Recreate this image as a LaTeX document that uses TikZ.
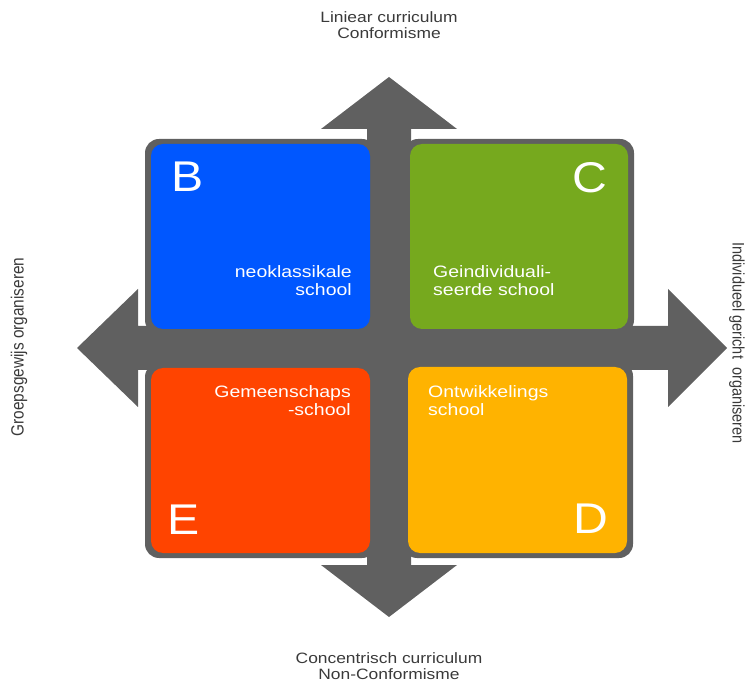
\documentclass[tikz,border=0pt]{standalone}
\usepackage{fontspec}
\setmainfont{Liberation Sans}
\definecolor{arrowgray}{HTML}{606060}
\definecolor{qblue}{HTML}{0057FF}
\definecolor{qgreen}{HTML}{76A91E}
\definecolor{qred}{HTML}{FF4400}
\definecolor{qorange}{HTML}{FFB300}
\definecolor{labelgray}{HTML}{3A3A3A}
\tikzset{
  frame/.style={fill=arrowgray, rounded corners=14pt},
  quad/.style={rounded corners=12pt},
  bigletter/.style={text=white, font=\fontsize{43}{43}\selectfont, inner sep=0pt, xscale=1.12},
  qlabel/.style={text=white, font=\fontsize{16.5}{18}\selectfont, inner sep=0pt, xscale=1.18},
  axislabel/.style={text=labelgray, font=\fontsize{15}{16}\selectfont, inner sep=0pt, align=center},
  hlabel/.style={axislabel, xscale=1.16},
  vlabel/.style={axislabel, font=\fontsize{14.5}{16}\selectfont, yscale=1.15}
}
\begin{document}
\begin{tikzpicture}[x=1pt,y=-1pt]
\useasboundingbox (0,0) rectangle (747,684);
% cross of arrows
\fill[arrowgray] (389,77) -- (457,129) -- (411,129) -- (411,326) -- (668,326) -- (668,289)
  -- (727,348) -- (668,407) -- (668,370) -- (411,370) -- (411,565) -- (457,565)
  -- (389,617) -- (321,565) -- (367,565) -- (367,370) -- (138,370) -- (138,407)
  -- (77,348) -- (138,289) -- (138,326) -- (367,326) -- (367,129) -- (321,129) -- cycle;
% frames
\fill[frame] (145,139) rectangle (376,334);
\fill[frame] (404,139) rectangle (634,334);
\fill[frame] (145,363) rectangle (376,558);
\fill[frame] (403,362) rectangle (633,558);
% quadrants
\fill[quad, qblue] (151,144) rectangle (370,329);
\fill[quad, qgreen] (410,144) rectangle (628,329);
\fill[quad, qred] (151,368) rectangle (370,553);
\fill[quad, qorange] (408,367) rectangle (627,553);
% letters
\node[bigletter, anchor=north west] (B) at (171,162) {B};
\node[bigletter, anchor=north east] (C) at (607,162) {C};
\node[bigletter, anchor=south west] (E) at (167,535) {E};
\node[bigletter, anchor=south east] (D) at (608,534) {D};
% quadrant labels
\node[qlabel, align=right, anchor=north east] (nb) at (352,265) {neoklassikale\\school};
\node[qlabel, align=left, anchor=north west] (nc) at (433,265) {Geindividuali-\\seerde school};
\node[qlabel, align=right, anchor=north east] (ne) at (351,385) {Gemeenschaps\\-school};
\node[qlabel, align=left, anchor=north west] (nd) at (428,385) {Ontwikkelings\\school};
% axis labels
\node[hlabel] (top) at (389,25) {Liniear curriculum\\Conformisme};
\node[hlabel] (bottom) at (389,666) {Concentrisch curriculum\\Non-Conformisme};
\node[rotate=90, vlabel, font=\fontsize{15.4}{16}\selectfont] (left) at (19,347) {Groepsgewijs organiseren};
\node[rotate=-90, vlabel] (right) at (737,343) {Individueel gericht\ \ organiseren};
\end{tikzpicture}
\end{document}
